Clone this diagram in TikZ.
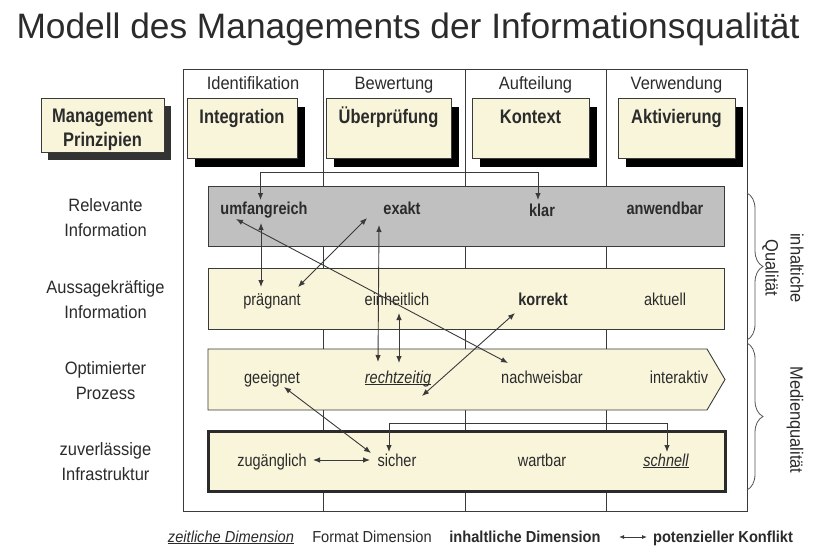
\documentclass[tikz,border=0pt]{standalone}
\usepackage{fontspec}
\setmainfont{Liberation Sans}
\newfontfamily\labfont{Liberation Sans}[FakeStretch=0.92]
\newfontfamily\narfont{Liberation Sans}[FakeStretch=0.84]
\usetikzlibrary{arrows.meta,decorations.pathreplacing}
\definecolor{txt}{HTML}{2B2B2B}
\definecolor{boxfill}{HTML}{F8F5DA}
\definecolor{bandgrey}{HTML}{C0C0C0}
\definecolor{linec}{HTML}{3A3A3A}
\definecolor{shadowgrey}{HTML}{333333}
\definecolor{bracec}{HTML}{555555}
\newcommand{\myul}[1]{\setbox0\hbox{#1}\rlap{\rule[-2.2pt]{\wd0}{0.8pt}}\box0}
\begin{document}
\begin{tikzpicture}[x=1pt,y=-1pt,>={Latex[length=7pt,width=5.5pt]},
  every node/.style={text=txt,inner sep=0pt,outer sep=0pt},
  ttl/.style={font=\fontsize{35.3}{40}\selectfont,anchor=base},
  colhead/.style={font=\labfont\fontsize{17.9}{20}\selectfont,anchor=base},
  rowlab/.style={font=\labfont\fontsize{17.9}{25}\selectfont,align=center},
  boxlab/.style={font=\narfont\bfseries\fontsize{19.6}{24}\selectfont,anchor=base,align=center},
  item/.style={font=\narfont\fontsize{17.3}{17}\selectfont,anchor=base},
  bitem/.style={font=\narfont\bfseries\fontsize{17.3}{17}\selectfont,anchor=base},
  leg/.style={font=\labfont\fontsize{15.9}{17}\selectfont,anchor=base},
  frameline/.style={draw=linec,line width=0.9pt},
  prbox/.style={draw=linec,line width=0.9pt,fill=boxfill},
  conn/.style={draw=linec,line width=0.9pt},
  qbrace/.style={draw=bracec,line width=0.8pt,decorate,decoration={brace,amplitude=16pt}}
]
\useasboundingbox (0,0) rectangle (816,551);
\fill[white] (0,0) rectangle (816,551);

% title
\node[ttl] (title) at (408,38) {Modell des Managements der Informationsqualität};

% frame and columns
\draw[frameline] (183,69) rectangle (747,511);
\draw[frameline] (323.5,69) -- (323.5,511);
\draw[frameline] (465,69) -- (465,511);
\draw[frameline] (606,69) -- (606,511);

% column headings
\node[colhead] (hid) at (253,89) {Identifikation};
\node[colhead] (hbe) at (394,89) {Bewertung};
\node[colhead] (hau) at (535.5,89) {Aufteilung};
\node[colhead] (hve) at (676.5,89) {Verwendung};

% principle boxes with shadows
\fill[shadowgrey] (48,106) rectangle (171,160);
\draw[prbox] (41,98) rectangle (164,152);
\fill[black] (195,107) rectangle (305,167);
\draw[prbox] (187,98) rectangle (297,158);
\fill[black] (334,107) rectangle (459,167);
\draw[prbox] (326,98) rectangle (451,158);
\fill[black] (480,107) rectangle (597,167);
\draw[prbox] (472,98) rectangle (589,158);
\fill[black] (626,107) rectangle (743,167);
\draw[prbox] (618,98) rectangle (735,158);

\node[boxlab,anchor=center] (mp) at (102.5,129.5) {Management\\Prinzipien};
\node[boxlab] (integ) at (242,123) {Integration};
\node[boxlab] (uebp) at (388.5,123) {Überprüfung};
\node[boxlab] (kont) at (530.5,123) {Kontext};
\node[boxlab] (aktiv) at (676.5,123) {Aktivierung};

% bands
\draw[prbox,fill=bandgrey] (208,186) rectangle (724,246);
\draw[prbox] (208,268) rectangle (724,329);
\draw[prbox] (208,349) -- (707,349) -- (725,379.5) -- (707,410) -- (208,410) -- cycle;
\draw[prbox,draw=txt,line width=3pt] (208,431) rectangle (725,491);

% row labels
\node[rowlab] (r1) at (105.5,218) {Relevante\\Information};
\node[rowlab] (r2) at (105.5,300) {Aussagekräftige\\Information};
\node[rowlab] (r3) at (105.5,381) {Optimierter\\Prozess};
\node[rowlab] (r4) at (105.5,462) {zuverlässige\\Infrastruktur};

% row 1
\node[bitem] (umf) at (264,214) {umfangreich};
\node[bitem] (exa) at (402,214) {exakt};
\node[bitem] (kla) at (542,216) {klar};
\node[bitem] (anw) at (665,214) {anwendbar};
% row 2
\node[item] (pra) at (272,305.5) {prägnant};
\node[item] (ein) at (397,305.5) {einheitlich};
\node[bitem] (kor) at (543,305.5) {korrekt};
\node[item] (akt) at (665,305.5) {aktuell};
% row 3
\node[item] (gee) at (272,383) {geeignet};
\node[item] (rec) at (398,383) {\myul{\itshape rechtzeitig}};
\node[item] (nac) at (542,383) {nachweisbar};
\node[item] (int) at (679,383) {interaktiv};
% row 4
\node[item] (zug) at (272,466) {zugänglich};
\node[item] (sic) at (397,466) {sicher};
\node[item] (war) at (542,466) {wartbar};
\node[item] (sch) at (666,466) {\myul{\itshape schnell}};

% connector end points
\coordinate (umfT) at (260.5,200);
\coordinate (klaT) at (538,200);
\coordinate (iL) at (260.5,172);
\coordinate (iR) at (538,172);
\coordinate (umfB) at (261,223);
\coordinate (praT) at (261,287);
\coordinate (exaL) at (367,218);
\coordinate (praR) at (298,287);
\coordinate (umfL) at (236,219);
\coordinate (nacT) at (508,363);
\coordinate (exaB) at (379,225);
\coordinate (recT) at (378,362);
\coordinate (einB) at (399,313);
\coordinate (recT2) at (399,363);
\coordinate (korL) at (515,313);
\coordinate (recR) at (422,396);
\coordinate (geeB) at (284,387);
\coordinate (sicL) at (371,453);
\coordinate (zugR) at (313,460);
\coordinate (sicW) at (370,460);
\coordinate (sicT) at (389,452);
\coordinate (sL) at (389,423);
\coordinate (sR) at (667,423);
\coordinate (schT) at (667,452);

% connectors
\draw[conn,<->] (umfT) -- (iL) -- (iR) -- (klaT);
\draw[conn,<->] (umfB) -- (praT);
\draw[conn,<->] (exaL) -- (praR);
\draw[conn,<->] (umfL) -- (nacT);
\draw[conn,<->] (exaB) -- (recT);
\draw[conn,<->] (einB) -- (recT2);
\draw[conn,<->] (korL) -- (recR);
\draw[conn,<->] (geeB) -- (sicL);
\draw[conn,<->] (zugR) -- (sicW);
\draw[conn,<->] (sicT) -- (sL) -- (sR) -- (schT);

% braces
\draw[qbrace] (747,193) -- (747,340);
\draw[qbrace] (747,343) -- (747,490);
\node[rowlab,rotate=-90] (inh) at (783,268) {inhaltiche\\Qualität};
\node[rowlab,rotate=-90] (med) at (795,420) {Medienqualität};

% legend
\node[leg] (lz) at (231,542) {\myul{\itshape zeitliche Dimension}};
\node[leg] (lf) at (372,542) {Format Dimension};
\node[leg,font=\labfont\bfseries\fontsize{15.9}{17}\selectfont] (li) at (525,542) {inhaltliche Dimension};
\coordinate (laL) at (619,537);
\coordinate (laR) at (647,537);
\draw[conn,{Latex[length=5pt,width=4pt]}-{Latex[length=5pt,width=4pt]}] (laL) -- (laR);
\node[leg,font=\labfont\bfseries\fontsize{15.9}{17}\selectfont] (lk) at (723,542) {potenzieller Konflikt};
\end{tikzpicture}
\end{document}
